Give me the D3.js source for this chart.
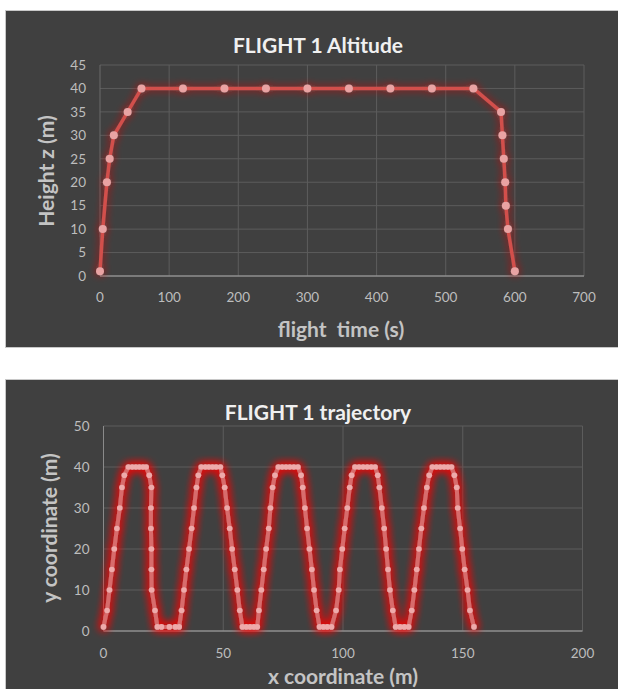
<!DOCTYPE html>
<html lang="en">
<head>
<meta charset="UTF-8">
<title>FLIGHT 1</title>
<style>
  body { margin: 0; background: #ffffff; }
  svg { display: block; font-family: Lato, "Open Sans", sans-serif; }
</style>
</head>
<body>
<svg id="chart" width="618" height="689"></svg>
<script src="https://d3js.org/d3.v7.min.js"></script>
<script>
// ---- Altitude chart data ----
const altTime   = [0, 4, 10, 14, 20, 40, 60, 120, 180, 240, 300, 360, 420, 480, 540, 580, 582, 584, 586, 587, 590, 600];
const altHeight = [1, 10, 20, 25, 30, 35, 40, 40, 40, 40, 40, 40, 40, 40, 40, 35, 30, 25, 20, 15, 10, 1];
const altXTicks = [0, 100, 200, 300, 400, 500, 600, 700];
const altYTicks = [0, 5, 10, 15, 20, 25, 30, 35, 40, 45];

// ---- Trajectory chart data ----
const trajX = [
  0, 1.5, 2.5, 3.5, 4.5, 5.6, 6.8, 7.7, 8.7,
  10.4, 12, 13.5, 15, 16.5, 17.8,
  19.1, 20, 19.8, 19.8, 20, 20, 20.1, 21.5, 22.5,
  24.2, 27.5, 30, 31.6,
  32.6, 33.6, 34.6, 35.7, 36.8, 37.8, 38.8, 39.6,
  40.8, 42.5, 44, 45.5, 47, 48.8,
  49.6, 50.6, 51.6, 52.7, 53.7, 54.8, 55.9, 56.9, 58,
  59.6, 61.2, 62.8, 64.2,
  64.9, 65.9, 66.9, 67.9, 69, 69.7, 70.6, 71.6,
  73, 74.6, 76.2, 77.8, 79.5, 81.2,
  82.5, 83.2, 84.1, 85, 86, 87, 87.9, 89, 90.2,
  91.8, 93.4, 95.2,
  97.1, 98.2, 98.7, 99.7, 100.7, 101.8, 102.8, 103.6,
  105, 106.7, 108.4, 110.1, 111.8, 113.4,
  114.5, 115.2, 116.2, 117.2, 118, 118.8, 119.6, 120.8,
  122, 123.8, 125.6, 127.4,
  128.7, 129.8, 130.8, 131.7, 132.7, 133.8, 135, 136,
  137.3, 139, 140.6, 142.2, 143.8, 145.3,
  146.5, 147.5, 147.9, 148.9, 149.8, 150.8, 152, 153, 154.7
];
const trajY = [
  1, 5, 10, 15, 20, 25, 30, 35, 38,
  40, 40, 40, 40, 40, 40,
  38, 35, 30, 25, 20, 15, 10, 5, 1,
  1, 1, 1, 1,
  5, 10, 15, 20, 25, 30, 35, 38,
  40, 40, 40, 40, 40, 40,
  38, 35, 30, 25, 20, 15, 10, 5, 1,
  1, 1, 1, 1,
  5, 10, 15, 20, 25, 30, 35, 38,
  40, 40, 40, 40, 40, 40,
  38, 35, 30, 25, 20, 15, 10, 5, 1,
  1, 1, 1,
  5, 10, 15, 20, 25, 30, 35, 38,
  40, 40, 40, 40, 40, 40,
  38, 35, 30, 25, 20, 15, 10, 5,
  1, 1, 1, 1,
  5, 10, 15, 20, 25, 30, 35, 38,
  40, 40, 40, 40, 40, 40,
  38, 35, 30, 25, 20, 15, 10, 5, 1
];
const trajXTicks = [0, 50, 100, 150, 200];
const trajYTicks = [0, 10, 20, 30, 40, 50];

const svg = d3.select('#chart');
const defs = svg.append('defs');

// soft red glow around the series
function glow(id, sd, color, opacity, passes) {
  const f = defs.append('filter').attr('id', id)
    .attr('x', '-20%').attr('y', '-20%').attr('width', '140%').attr('height', '140%');
  f.append('feGaussianBlur').attr('in', 'SourceAlpha').attr('stdDeviation', sd).attr('result', 'blur');
  f.append('feFlood').attr('flood-color', color).attr('flood-opacity', opacity).attr('result', 'col');
  f.append('feComposite').attr('in', 'col').attr('in2', 'blur').attr('operator', 'in').attr('result', 'halo');
  const m = f.append('feMerge');
  for (let i = 0; i < passes; i++) m.append('feMergeNode').attr('in', 'halo');
  m.append('feMergeNode').attr('in', 'SourceGraphic');
}
glow('glowTop', 4.5, '#e02020', 0.45, 2);
glow('glowBot', 5, '#ff0a0a', 0.85, 3);

function drawChart(o) {
  const g = svg.append('g');
  // frame
  g.append('rect')
    .attr('x', o.frame[0]).attr('y', o.frame[1])
    .attr('width', o.frame[2]).attr('height', o.frame[3])
    .attr('fill', '#404040').attr('stroke', '#c8c8c8').attr('stroke-width', 1);

  const x = d3.scaleLinear().domain(o.xDomain).range([o.left, o.right]);
  const y = d3.scaleLinear().domain(o.yDomain).range([o.bottom, o.top]);

  // gridlines
  g.append('g').selectAll('line').data(o.yTicks.slice(1)).join('line')
    .attr('x1', o.left).attr('x2', o.right)
    .attr('y1', d => y(d)).attr('y2', d => y(d))
    .attr('stroke', '#5c5c5c').attr('stroke-width', 1);
  g.append('g').selectAll('line').data(o.xTicks).join('line')
    .attr('x1', d => x(d)).attr('x2', d => x(d))
    .attr('y1', o.top).attr('y2', o.bottom)
    .attr('stroke', (d, i) => i === 0 ? o.zeroAxisColor : '#5c5c5c').attr('stroke-width', 1);
  // x axis line
  g.append('line')
    .attr('x1', o.left).attr('x2', o.right)
    .attr('y1', y(0)).attr('y2', y(0))
    .attr('stroke', '#8f8f8f').attr('stroke-width', 1.5);

  // tick labels
  g.append('g').selectAll('text').data(o.yTicks).join('text')
    .attr('x', o.left - 14).attr('y', d => y(d)).attr('dy', '0.35em')
    .attr('text-anchor', 'end').attr('fill', '#bdbdbd').attr('font-size', 13.5)
    .text(d => d);
  g.append('g').selectAll('text').data(o.xTicks).join('text')
    .attr('x', d => x(d)).attr('y', o.xTickY).attr('dy', '0.35em')
    .attr('text-anchor', 'middle').attr('fill', '#bdbdbd').attr('font-size', 13.5)
    .text(d => d);

  // series
  const pts = o.xs.map((v, i) => [v, o.ys[i]]);
  const series = g.append('g').attr('filter', `url(#${o.glow})`);
  series.append('path')
    .attr('d', d3.line().x(d => x(d[0])).y(d => y(d[1]))(pts))
    .attr('fill', 'none').attr('stroke', o.lineColor)
    .attr('stroke-width', o.lineWidth).attr('stroke-linejoin', 'round');
  series.selectAll('circle').data(pts).join('circle')
    .attr('cx', d => x(d[0])).attr('cy', d => y(d[1])).attr('r', o.markerR)
    .attr('fill', o.markerColor);

  // titles
  g.append('text')
    .attr('x', o.titlePos[0]).attr('y', o.titlePos[1])
    .attr('text-anchor', 'middle').attr('fill', '#f0f0f0')
    .attr('font-size', 21).attr('font-weight', 'bold')
    .text(o.title);
  g.append('text')
    .attr('x', o.xTitlePos[0]).attr('y', o.xTitlePos[1])
    .attr('text-anchor', 'middle').attr('fill', '#c4c4c4')
    .attr('font-size', 21).attr('font-weight', 'bold')
    .attr('xml:space', 'preserve')
    .text(o.xTitle);
  g.append('text')
    .attr('transform', `translate(${o.yTitlePos[0]},${o.yTitlePos[1]}) rotate(-90)`)
    .attr('text-anchor', 'middle').attr('fill', '#c4c4c4')
    .attr('font-size', 21).attr('font-weight', 'bold')
    .text(o.yTitle);
}

drawChart({
  frame: [5.5, 10.5, 640, 337],
  left: 100, right: 584, top: 65, bottom: 276,
  xDomain: [0, 700], yDomain: [0, 45],
  xTicks: altXTicks, yTicks: altYTicks, xTickY: 297,
  zeroAxisColor: '#6a6a6a',
  xs: altTime, ys: altHeight,
  lineColor: '#d24f4c', lineWidth: 3.5, markerR: 4, markerColor: '#e9a3a3',
  glow: 'glowTop',
  title: 'FLIGHT 1 Altitude', titlePos: [318, 53],
  xTitlePos: [341, 337], xTitle: 'flight  time (s)',
  yTitle: 'Height z (m)', yTitlePos: [54, 171]
});

drawChart({
  frame: [5.5, 379.5, 640, 340],
  left: 103.5, right: 582.5, top: 426, bottom: 631,
  xDomain: [0, 200], yDomain: [0, 50],
  xTicks: trajXTicks, yTicks: trajYTicks, xTickY: 653,
  zeroAxisColor: '#8a8a8a',
  xs: trajX, ys: trajY,
  lineColor: '#d86c6c', lineWidth: 4, markerR: 2.8, markerColor: '#eeaaaa',
  glow: 'glowBot',
  title: 'FLIGHT 1 trajectory', titlePos: [318, 420],
  xTitle: 'x coordinate (m)', xTitlePos: [343, 684],
  yTitle: 'y coordinate (m)', yTitlePos: [57, 528]
});
</script>
</body>
</html>
